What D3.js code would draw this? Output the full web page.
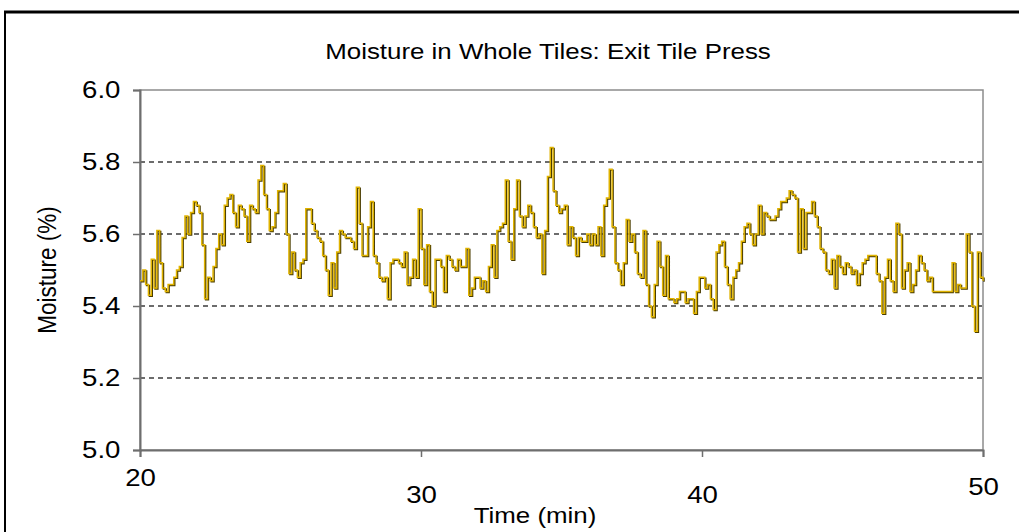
<!DOCTYPE html>
<html>
<head>
<meta charset="utf-8">
<script src="https://cdn.jsdelivr.net/npm/d3@7"></script>
<style>
  body { margin: 0; background: #fff; }
  text { font-family: "Liberation Sans", Arial, sans-serif; fill: #000; }
</style>
</head>
<body>
<div id="chart"></div>
<script>
// readings every 0.1 min from 20.0 to 50.0 min
let startMin = 20,
    stepMin = 0.1;

let moisture = [
  // 20 - 25
  5.47, 5.50, 5.46, 5.43, 5.53, 5.45, 5.61, 5.52, 5.45, 5.44,
  5.46, 5.46, 5.48, 5.50, 5.51, 5.59, 5.65, 5.60, 5.66, 5.69,
  5.68, 5.66, 5.57, 5.42, 5.48, 5.47, 5.51, 5.56, 5.60, 5.57,
  5.68, 5.70, 5.71, 5.66, 5.62, 5.68, 5.67, 5.65, 5.58, 5.68,
  5.67, 5.66, 5.75, 5.79, 5.71, 5.67, 5.61, 5.62, 5.66, 5.72,
  // 25 - 30
  5.72, 5.74, 5.60, 5.49, 5.55, 5.50, 5.48, 5.52, 5.53, 5.67,
  5.67, 5.63, 5.61, 5.59, 5.58, 5.54, 5.50, 5.43, 5.52, 5.45,
  5.55, 5.61, 5.60, 5.59, 5.59, 5.58, 5.56, 5.73, 5.63, 5.54,
  5.54, 5.62, 5.69, 5.54, 5.52, 5.48, 5.47, 5.48, 5.42, 5.52,
  5.53, 5.53, 5.52, 5.51, 5.55, 5.46, 5.48, 5.53, 5.48, 5.67,
  // 30 - 35
  5.56, 5.46, 5.57, 5.44, 5.40, 5.53, 5.53, 5.51, 5.44, 5.54,
  5.53, 5.51, 5.50, 5.53, 5.51, 5.51, 5.56, 5.43, 5.45, 5.48,
  5.48, 5.45, 5.47, 5.44, 5.51, 5.57, 5.48, 5.61, 5.62, 5.63,
  5.75, 5.58, 5.53, 5.67, 5.75, 5.65, 5.62, 5.65, 5.68, 5.66,
  5.62, 5.59, 5.60, 5.49, 5.61, 5.76, 5.84, 5.72, 5.68, 5.66,
  // 35 - 40
  5.67, 5.68, 5.57, 5.62, 5.59, 5.54, 5.59, 5.58, 5.58, 5.60,
  5.57, 5.60, 5.57, 5.62, 5.54, 5.68, 5.70, 5.78, 5.62, 5.52,
  5.50, 5.46, 5.52, 5.64, 5.58, 5.60, 5.55, 5.49, 5.48, 5.61,
  5.46, 5.40, 5.37, 5.46, 5.58, 5.51, 5.43, 5.54, 5.42, 5.42,
  5.41, 5.42, 5.44, 5.44, 5.41, 5.42, 5.42, 5.38, 5.44, 5.48,
  // 40 - 45
  5.48, 5.45, 5.46, 5.42, 5.39, 5.55, 5.57, 5.58, 5.51, 5.46,
  5.42, 5.48, 5.50, 5.52, 5.58, 5.62, 5.63, 5.60, 5.57, 5.60,
  5.68, 5.60, 5.66, 5.65, 5.64, 5.64, 5.65, 5.67, 5.69, 5.69,
  5.70, 5.72, 5.71, 5.70, 5.55, 5.67, 5.56, 5.66, 5.66, 5.69,
  5.65, 5.62, 5.56, 5.55, 5.50, 5.49, 5.53, 5.45, 5.54, 5.51,
  // 45 - 50
  5.49, 5.52, 5.51, 5.49, 5.50, 5.46, 5.49, 5.52, 5.53, 5.54,
  5.54, 5.54, 5.49, 5.47, 5.38, 5.48, 5.53, 5.47, 5.44, 5.63,
  5.60, 5.45, 5.50, 5.52, 5.44, 5.46, 5.50, 5.54, 5.52, 5.50,
  5.47, 5.48, 5.44, 5.44, 5.44, 5.44, 5.44, 5.44, 5.44, 5.52,
  5.44, 5.46, 5.45, 5.45, 5.60, 5.55, 5.40, 5.33, 5.55, 5.48,
  5.47
];

let xTicks = [20, 30, 40, 50],
    yTicks = [5.0, 5.2, 5.4, 5.6, 5.8, 6.0],
    gridValues = [5.2, 5.4, 5.6, 5.8];

let titleText = "Moisture in Whole Tiles: Exit Tile Press",
    xLabelText = "Time (min)",
    yLabelText = "Moisture (%)";

let width = 1019,
    height = 532,
    margin = { top: 90, left: 140, right: 36, bottom: 82 },
    stretch = 1.15; // the source picture is a little wide, so text is too

let innerW = width - margin.left - margin.right,
    innerH = height - margin.top - margin.bottom;

let data = moisture.map((v, i) => ({ t: startMin + i * stepMin, v: v }));

let xScale = d3.scaleLinear().domain([20, 50]).range([0, innerW]),
    yScale = d3.scaleLinear().domain([5.0, 6.0]).range([innerH, 0]);

let svg = d3.select("#chart")
  .append("svg")
    .attr("width", width)
    .attr("height", height);

// outer frame of the figure (runs off the right and bottom edges)
svg.append("rect")
  .attr("x", 5)
  .attr("y", 12)
  .attr("width", width + 10)
  .attr("height", height)
  .attr("fill", "none")
  .attr("stroke", "#000")
  .attr("stroke-width", 2);
svg.append("line")
  .attr("x1", 4).attr("x2", width)
  .attr("y1", 12).attr("y2", 12)
  .attr("stroke", "#000")
  .attr("stroke-width", 3);

svg.append("text")
  .attr("transform", "translate(548,59) scale(" + stretch + ",1)")
  .attr("text-anchor", "middle")
  .style("font-size", "22.5px")
  .text(titleText);

let g = svg.append("g")
  .attr("transform", "translate(" + margin.left + "," + margin.top + ")");

// plot box
g.append("rect")
  .attr("width", innerW)
  .attr("height", innerH)
  .attr("fill", "none")
  .attr("stroke", "#8c8c8c")
  .attr("stroke-width", 1.5);

g.append("g")
  .selectAll("line")
  .data(gridValues)
  .enter()
  .append("line")
    .attr("x1", 0)
    .attr("x2", innerW)
    .attr("y1", d => yScale(d))
    .attr("y2", d => yScale(d))
    .attr("stroke", "#3c3c3c")
    .attr("stroke-width", 1.5)
    .attr("stroke-dasharray", "5,4");

// y axis
let yAxis = g.append("g")
  .call(d3.axisLeft(yScale).tickValues(yTicks).tickFormat(d3.format(".1f")).tickSize(7).tickPadding(10));
yAxis.select(".domain").attr("stroke", "#6e6e6e").attr("stroke-width", 2);
yAxis.selectAll(".tick line").attr("stroke", "#6e6e6e").attr("stroke-width", 1.5);
yAxis.selectAll(".tick text")
  .attr("fill", "#000")
  .attr("transform", "scale(" + stretch + ",1)")
  .style("font-family", "'Liberation Sans', Arial, sans-serif")
  .style("font-size", "24px");

// x axis, Excel staggered the tick labels
let xLabelDrop = { 20: 28, 30: 45, 40: 45, 50: 37 };
let xAxis = g.append("g")
  .attr("transform", "translate(0," + innerH + ")")
  .call(d3.axisBottom(xScale).tickValues(xTicks).tickSize(7));
xAxis.select(".domain").attr("stroke", "#6e6e6e").attr("stroke-width", 2);
xAxis.selectAll(".tick line").attr("stroke", "#6e6e6e").attr("stroke-width", 1.5);
xAxis.selectAll(".tick text")
  .attr("fill", "#000")
  .attr("y", d => xLabelDrop[d])
  .attr("dy", "0.35em")
  .attr("transform", "scale(" + stretch + ",1)")
  .style("font-family", "'Liberation Sans', Arial, sans-serif")
  .style("font-size", "24px");

let line = d3.line()
  .x(d => xScale(d.t))
  .y(d => yScale(d.v))
  .curve(d3.curveStepAfter);

// dark shadow under the gold trace
g.append("path")
  .datum(data)
  .attr("transform", "translate(1,1)")
  .attr("fill", "none")
  .attr("stroke", "#4a3d00")
  .attr("stroke-width", 1.5)
  .attr("d", line);

g.append("path")
  .datum(data)
  .attr("fill", "none")
  .attr("stroke", "#e0b300")
  .attr("stroke-width", 1.5)
  .attr("d", line);

svg.append("text")
  .attr("transform", "translate(535,523) scale(" + stretch + ",1)")
  .attr("text-anchor", "middle")
  .style("font-size", "22.5px")
  .text(xLabelText);

svg.append("text")
  .attr("transform", "translate(56,270) scale(" + stretch + ",1) rotate(-90)")
  .attr("text-anchor", "middle")
  .style("font-size", "22.5px")
  .text(yLabelText);
</script>
</body>
</html>
